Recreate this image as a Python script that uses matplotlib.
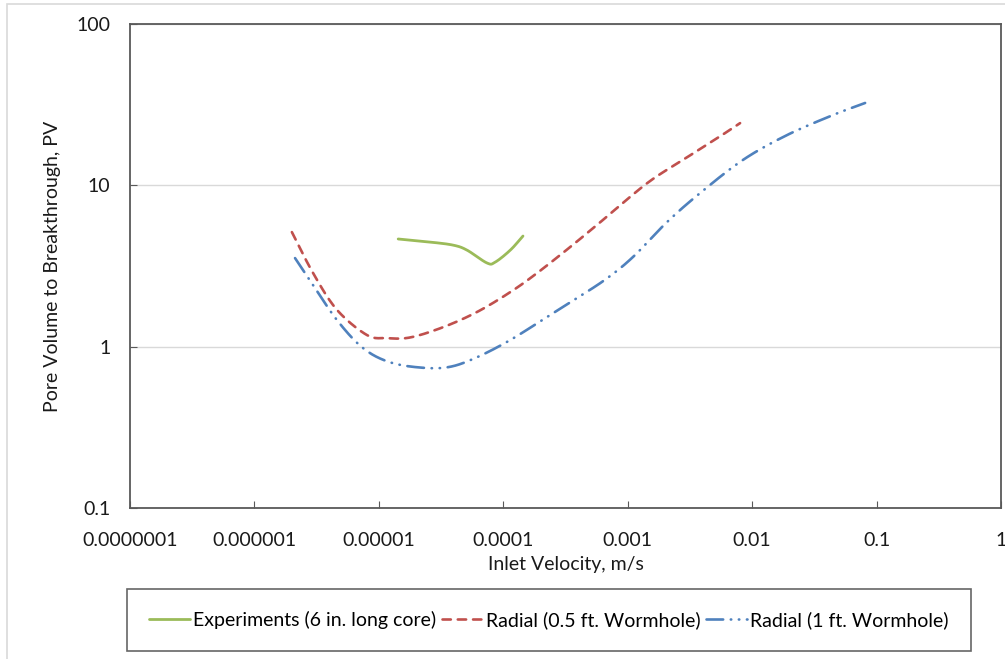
import matplotlib
matplotlib.use("Agg")
import matplotlib.pyplot as plt
import numpy as np
from matplotlib.patches import Rectangle

plt.rcParams['font.family'] = ['Lato', 'DejaVu Sans']
plt.rcParams['lines.scale_dashes'] = False

# values (log-log chart)
exp_v = [1.43e-5, 2.58e-5, 3.95e-5, 5.1e-5, 7.4e-5, 8.6e-5, 1.14e-4, 1.44e-4]
exp_pv = [4.65, 4.45, 4.26, 3.97, 3.30, 3.34, 3.97, 4.85]

r05_v = [2.0e-6, 2.96e-6, 4.61e-6, 8.03e-6, 1.16e-5, 1.78e-5, 3.28e-5, 6.15e-5,
         1.14e-4, 1.87e-4, 3.44e-4, 6.0e-4, 1.43e-3, 2.79e-3, 5.24e-3, 8.0e-3]
r05_pv = [5.13, 2.86, 1.69, 1.18, 1.13, 1.14, 1.32, 1.64,
          2.18, 2.86, 4.14, 5.9, 10.3, 14.4, 19.6, 24.3]

r1_v = [2.12e-6, 2.96e-6, 4.61e-6, 7.46e-6, 1.23e-5, 2.26e-5, 3.73e-5, 6.15e-5,
        1.14e-4, 2.25e-4, 3.44e-4, 6.58e-4, 1.10e-3, 2.07e-3, 3.82e-3, 8.47e-3,
        1.91e-2, 4.48e-2, 8.09e-2]
r1_pv = [3.54, 2.41, 1.46, 0.98, 0.80, 0.74, 0.75, 0.86,
         1.10, 1.53, 1.88, 2.6, 3.59, 5.92, 8.96, 14.4,
         20.5, 27.3, 32.4]

labels = ['Experiments (6 in. long core)', 'Radial (0.5 ft. Wormhole)', 'Radial (1 ft. Wormhole)']
xticks = [1e-7, 1e-6, 1e-5, 1e-4, 1e-3, 1e-2, 1e-1, 1]
xticklabels = ['0.0000001', '0.000001', '0.00001', '0.0001', '0.001', '0.01', '0.1', '1']
yticks = [0.1, 1, 10, 100]
yticklabels = ['0.1', '1', '10', '100']

FS = 14


def smooth(x, y, n=20):
    # catmull-rom through points in log space, like Excel smoothed lines
    lx, ly = np.log10(x), np.log10(y)
    px = np.concatenate([[2 * lx[0] - lx[1]], lx, [2 * lx[-1] - lx[-2]]])
    py = np.concatenate([[2 * ly[0] - ly[1]], ly, [2 * ly[-1] - ly[-2]]])
    ox, oy = [], []
    t = np.linspace(0, 1, n, endpoint=False)
    for i in range(1, len(px) - 2):
        for p, o in ((px, ox), (py, oy)):
            p0, p1, p2, p3 = p[i - 1], p[i], p[i + 1], p[i + 2]
            o.extend(0.5 * (2 * p1 + (-p0 + p2) * t + (2 * p0 - 5 * p1 + 4 * p2 - p3) * t ** 2
                            + (-p0 + 3 * p1 - 3 * p2 + p3) * t ** 3))
    ox.append(lx[-1])
    oy.append(ly[-1])
    return 10 ** np.array(ox), 10 ** np.array(oy)


fig = plt.figure(figsize=(10.05, 6.59), dpi=100)
ax = fig.add_axes([130 / 1005, 1 - 508 / 659, 871 / 1005, 484 / 659])

sx, sy = smooth(exp_v, exp_pv)
ax.plot(sx, sy, color='#9BBB59', lw=2.0, solid_capstyle='round', label=labels[0])
sx, sy = smooth(r05_v, r05_pv)
ax.plot(sx, sy, color='#C0504D', lw=1.9, linestyle=(0, (6, 5)), dash_capstyle='round',
        label=labels[1])
sx, sy = smooth(r1_v, r1_pv)
ax.plot(sx, sy, color='#4F81BD', lw=1.9, linestyle=(0, (12, 5.5, 0.3, 5.5, 0.3, 5.5)),
        dash_capstyle='round', label=labels[2])

ax.set_xscale('log')
ax.set_yscale('log')
ax.set_xlim(1e-7, 1)
ax.set_ylim(0.1, 100)
ax.set_xticks(xticks)
ax.set_xticklabels(xticklabels)
ax.set_yticks(yticks)
ax.set_yticklabels(yticklabels)
ax.minorticks_off()
ax.tick_params(direction='in', length=5, width=0.8, color='#595959', labelsize=FS,
               labelcolor='#1a1a1a')
ax.tick_params(axis='x', pad=17.5)
ax.tick_params(axis='y', pad=14)
ax.grid(axis='y', color='#D9D9D9', lw=1.0)
ax.set_axisbelow(True)
for s in ax.spines.values():
    s.set_color('#595959')
    s.set_linewidth(1.3)

ax.set_xlabel('Inlet Velocity, m/s', fontsize=FS, labelpad=5, color='#1a1a1a')
ax.set_ylabel('Pore Volume to Breakthrough, PV', fontsize=FS, labelpad=11, color='#1a1a1a')

leg = fig.legend(loc='center', bbox_to_anchor=(549 / 1005, 1 - 620 / 659), ncol=3,
                 fontsize=FS, frameon=True, fancybox=False, handlelength=2.1,
                 handletextpad=0.15, columnspacing=0.3, borderpad=1.15, borderaxespad=0)
leg.get_frame().set_edgecolor('#404040')
leg.get_frame().set_linewidth(1.2)

# light outer chart border
fig.patches.append(Rectangle((7 / 1005, -0.1), 1.2, 1 - 4 / 659 + 0.1,
                             transform=fig.transFigure, fill=False,
                             edgecolor='#D9D9D9', lw=1.2))

fig.savefig('out.png', dpi=100)
